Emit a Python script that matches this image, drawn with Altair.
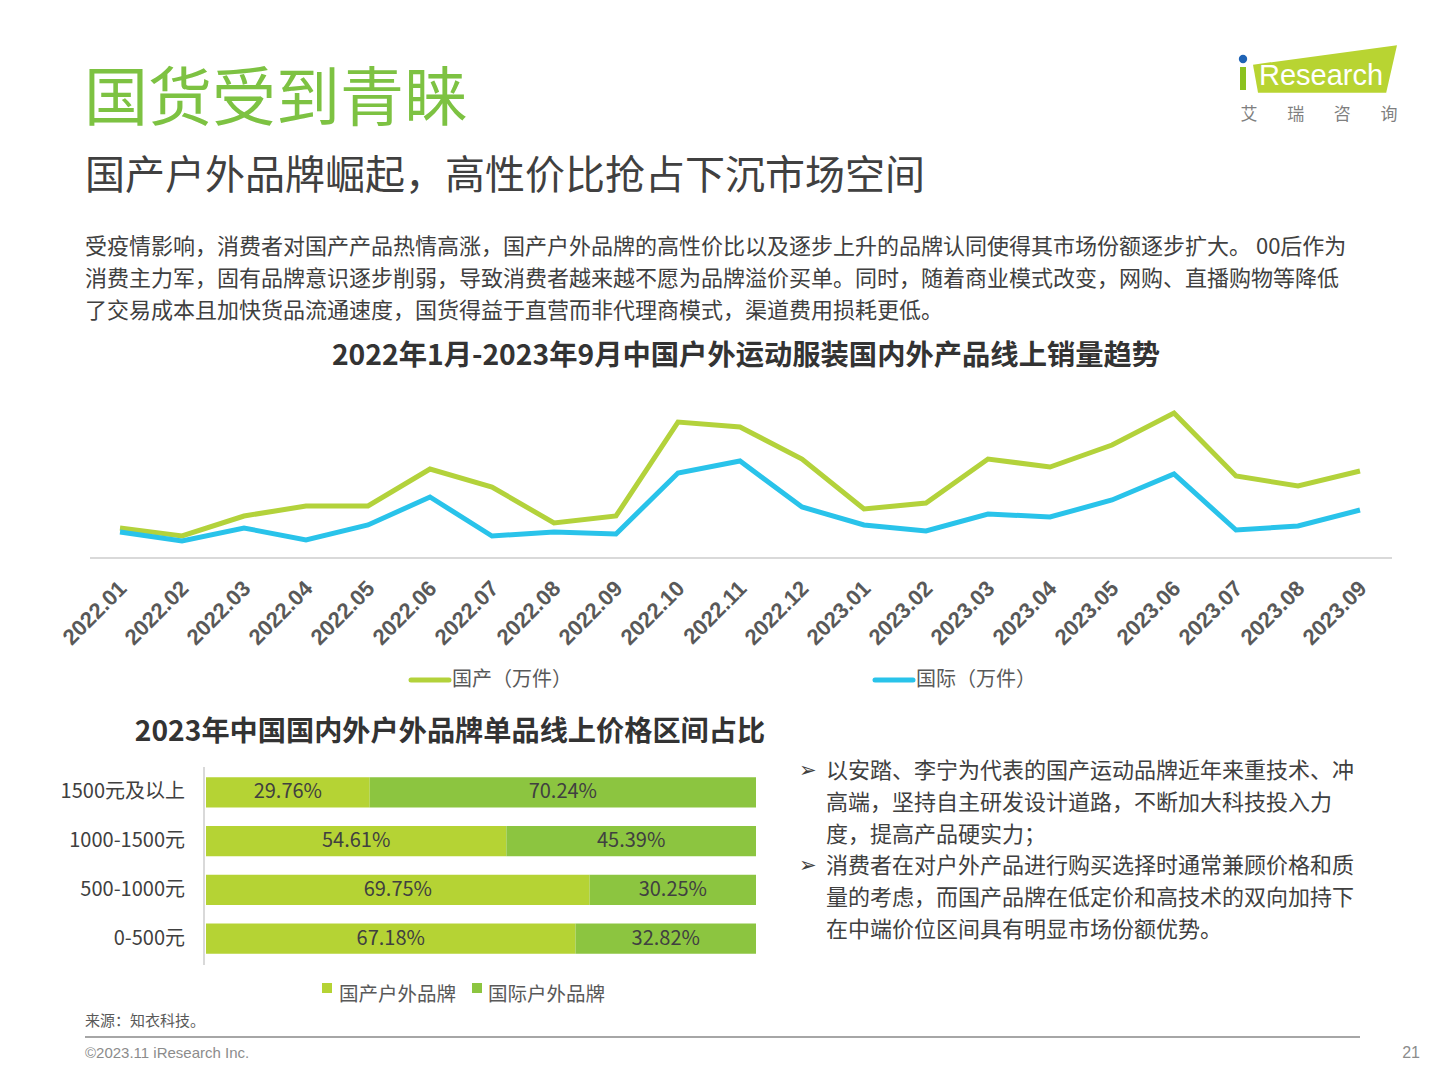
import altair as alt
import pandas as pd

# ---- data -------------------------------------------------------------
months = ["2022.01", "2022.02", "2022.03", "2022.04", "2022.05", "2022.06", "2022.07",
          "2022.08", "2022.09", "2022.10", "2022.11", "2022.12", "2023.01", "2023.02",
          "2023.03", "2023.04", "2023.05", "2023.06", "2023.07", "2023.08", "2023.09"]
domestic_sales = [30, 22, 42, 52, 52, 89, 71, 35, 42, 136, 131, 99, 49, 55, 99, 91, 113, 145, 82, 72, 87]
international_sales = [26, 17, 30, 18, 33, 61, 22, 26, 24, 85, 97, 51, 33, 27, 44, 41, 58, 84, 28, 32, 48]
series_names = ["国产（万件）", "国际（万件）"]

price_bands = ["1500元及以上", "1000-1500元", "500-1000元", "0-500元"]
domestic_share = [29.76, 54.61, 69.75, 67.18]
international_share = [70.24, 45.39, 30.25, 32.82]
brand_names = ["国产户外品牌", "国际户外品牌"]

page_title = "国货受到青睐"
page_subtitle = "国产户外品牌崛起，高性价比抢占下沉市场空间"
intro_lines = [
    "受疫情影响，消费者对国产产品热情高涨，国产户外品牌的高性价比以及逐步上升的品牌认同使得其市场份额逐步扩大。 00后作为",
    "消费主力军，固有品牌意识逐步削弱，导致消费者越来越不愿为品牌溢价买单。同时，随着商业模式改变，网购、直播购物等降低",
    "了交易成本且加快货品流通速度，国货得益于直营而非代理商模式，渠道费用损耗更低。",
]
line_title = "2022年1月-2023年9月中国户外运动服装国内外产品线上销量趋势"
bar_title = "2023年中国国内外户外品牌单品线上价格区间占比"
bullet_lines = [
    ("➢", "以安踏、李宁为代表的国产运动品牌近年来重技术、冲"),
    ("", "高端，坚持自主研发设计道路，不断加大科技投入力"),
    ("", "度，提高产品硬实力；"),
    ("➢", "消费者在对户外产品进行购买选择时通常兼顾价格和质"),
    ("", "量的考虑，而国产品牌在低定价和高技术的双向加持下"),
    ("", "在中端价位区间具有明显市场份额优势。"),
]
source_note = "来源：知衣科技。"
copyright_note = "©2023.11 iResearch Inc."
page_number = "21"
logo_word = "Research"
logo_cn = ["艾", "瑞", "咨", "询"]

# ---- style ------------------------------------------------------------
CJK = "Noto Sans CJK SC"
LATIN = "Liberation Sans"
DARK = "#404040"
GREY = "#595959"
TITLE_GREEN = "#7dc242"
LINE_GREEN = "#b3d23b"
LINE_BLUE = "#29c3ea"
BAR_LIGHT = "#b5d334"
BAR_DARK = "#8cc540"
LOGO_GREEN = "#b8d432"

ONE = pd.DataFrame({"k": [0]})


def note(text, x, y, size, color=DARK, weight="normal", align="left", font=CJK):
    return alt.Chart(ONE).mark_text(
        fontSize=size, color=color, fontWeight=weight, align=align,
        baseline="middle", font=font,
    ).encode(x=alt.value(x), y=alt.value(y), text=alt.value(text))


def hrule(x1, x2, y, color, width):
    return alt.Chart(ONE).mark_rule(color=color, strokeWidth=width).encode(
        x=alt.value(x1), x2=alt.value(x2), y=alt.value(y))


def vrule(x, y1, y2, color, width):
    return alt.Chart(ONE).mark_rule(color=color, strokeWidth=width).encode(
        x=alt.value(x), y=alt.value(y1), y2=alt.value(y2))


layers = []

# ---- header -----------------------------------------------------------
layers.append(note(page_title, 84, 101, 64, TITLE_GREEN))
layers.append(note(page_subtitle, 85, 177, 40, DARK))
for i, line in enumerate(intro_lines):
    layers.append(note(line, 85, 247 + 32 * i, 22, DARK))

# logo
logo_path = "M -1 -0.06 L 1 -0.33 L 0.85 0.33 L -0.93 0.33 Z"
layers.append(alt.Chart(ONE).mark_point(
    shape=logo_path, filled=True, size=20736, color=LOGO_GREEN, opacity=1, strokeWidth=0
).encode(x=alt.value(1325), y=alt.value(69)))
layers.append(vrule(1243, 67, 90, "#8cc21f", 6))
layers.append(alt.Chart(ONE).mark_circle(size=70, color="#1f63b5", opacity=1).encode(
    x=alt.value(1243), y=alt.value(59)))
layers.append(note(logo_word, 1259, 76, 29, "white", font=LATIN))
logo_df = pd.DataFrame({"c": logo_cn})
layers.append(alt.Chart(logo_df).mark_text(
    fontSize=17, color="#7f7f7f", font=CJK, baseline="middle"
).encode(
    x=alt.X("c:N", sort=logo_cn, scale=alt.Scale(type="point", range=[1249, 1389], padding=0), axis=None),
    y=alt.value(115), text="c:N"))

# ---- line chart: monthly online sales -----------------------------------
layers.append(note(line_title, 746, 357, 28.3, "#333333", weight="bold", align="center"))

line_df = pd.DataFrame({
    "month": months * 2,
    "series": [series_names[0]] * len(months) + [series_names[1]] * len(months),
    "value": domestic_sales + international_sales,
})
layers.append(hrule(90, 1392, 558, "#d9d9d9", 2))
layers.append(alt.Chart(line_df).mark_line(strokeWidth=5).encode(
    x=alt.X("month:O", sort=months, scale=alt.Scale(type="point", range=[120, 1360], padding=0), axis=None),
    y=alt.Y("value:Q", scale=alt.Scale(domain=[0, 150], range=[558, 408]), axis=None),
    color=alt.Color("series:N", scale=alt.Scale(domain=series_names, range=[LINE_GREEN, LINE_BLUE]), legend=None),
))
month_df = pd.DataFrame({"month": months})
layers.append(alt.Chart(month_df).mark_text(
    angle=315, align="right", baseline="middle", font=LATIN, fontWeight="bold",
    fontSize=22, color=GREY,
).encode(
    x=alt.X("month:O", sort=months, scale=alt.Scale(type="point", range=[123, 1363], padding=0), axis=None),
    y=alt.value(585), text="month:N"))

# legend
layers.append(alt.Chart(ONE).mark_rule(color=LINE_GREEN, strokeWidth=5, strokeCap="round").encode(
    x=alt.value(411), x2=alt.value(449), y=alt.value(680)))
layers.append(note(series_names[0], 452, 680, 20, GREY))
layers.append(alt.Chart(ONE).mark_rule(color=LINE_BLUE, strokeWidth=5, strokeCap="round").encode(
    x=alt.value(875), x2=alt.value(913), y=alt.value(680)))
layers.append(note(series_names[1], 916, 680, 20, GREY))

# ---- stacked bar chart: price band shares -------------------------------
layers.append(note(bar_title, 450, 733, 28.2, "#333333", weight="bold", align="center"))

bar_df = pd.DataFrame({
    "band": price_bands * 2,
    "brand": [brand_names[0]] * 4 + [brand_names[1]] * 4,
    "brand_idx": [0] * 4 + [1] * 4,
    "share": domestic_share + international_share,
})
x_bar = alt.Scale(domain=[0, 100], range=[206, 756])
y_bar = alt.Scale(range=[768, 963], paddingInner=0.38, paddingOuter=0.19)
stacked = alt.Chart(bar_df).transform_stack(
    stack="share", groupby=["band"], as_=["x0", "x1"],
    sort=[alt.SortField("brand_idx", order="ascending")],
)
layers.append(stacked.mark_bar().encode(
    x=alt.X("x0:Q", scale=x_bar, axis=None),
    x2="x1:Q",
    y=alt.Y("band:N", sort=price_bands, scale=y_bar, axis=None),
    color=alt.Color("brand:N", scale=alt.Scale(domain=brand_names, range=[BAR_LIGHT, BAR_DARK]), legend=None),
))
layers.append(stacked.transform_calculate(
    mid="(datum.x0 + datum.x1) / 2",
    label="format(datum.share, '.2f') + '%'",
).mark_text(fontSize=20, color=DARK, font=CJK, baseline="middle").encode(
    x=alt.X("mid:Q", scale=x_bar, axis=None),
    y=alt.Y("band:N", sort=price_bands, scale=y_bar, axis=None),
    text="label:N",
))
band_df = pd.DataFrame({"band": price_bands})
layers.append(alt.Chart(band_df).mark_text(
    fontSize=20, color=DARK, font=CJK, align="right", baseline="middle"
).encode(
    x=alt.value(185),
    y=alt.Y("band:N", sort=price_bands, scale=y_bar, axis=None),
    text="band:N",
))
layers.append(vrule(204, 767, 965, "#d9d9d9", 2))

# bar legend
layers.append(alt.Chart(ONE).mark_rect(color=BAR_LIGHT).encode(
    x=alt.value(322), x2=alt.value(332), y=alt.value(983), y2=alt.value(993)))
layers.append(note(brand_names[0], 339, 995, 19.5, GREY))
layers.append(alt.Chart(ONE).mark_rect(color=BAR_DARK).encode(
    x=alt.value(472), x2=alt.value(482), y=alt.value(983), y2=alt.value(993)))
layers.append(note(brand_names[1], 488, 995, 19.5, GREY))

# ---- commentary -----------------------------------------------------
for i, (mark, line) in enumerate(bullet_lines):
    y = 771 + 31.8 * i
    if mark:
        layers.append(note(mark, 799, y, 21, DARK, font="DejaVu Sans"))
    layers.append(note(line, 826, y, 22, DARK))

# ---- footer ---------------------------------------------------------
layers.append(note(source_note, 85, 1021, 15, GREY))
layers.append(hrule(85, 1360, 1037, "#a6a6a6", 2))
layers.append(note(copyright_note, 85, 1053, 15, "#8c8c8c", font=LATIN))
layers.append(note(page_number, 1420, 1053, 16, "#8c8c8c", align="right", font=LATIN))

chart = alt.layer(*layers).resolve_scale(
    x="independent", y="independent", color="independent"
).properties(
    width=1440, height=1080, autosize=alt.AutoSizeParams(type="none"), padding=0,
    background="white",
).configure_view(stroke=None)

chart.save("out.html", embed_options={"renderer": "svg", "actions": False})
